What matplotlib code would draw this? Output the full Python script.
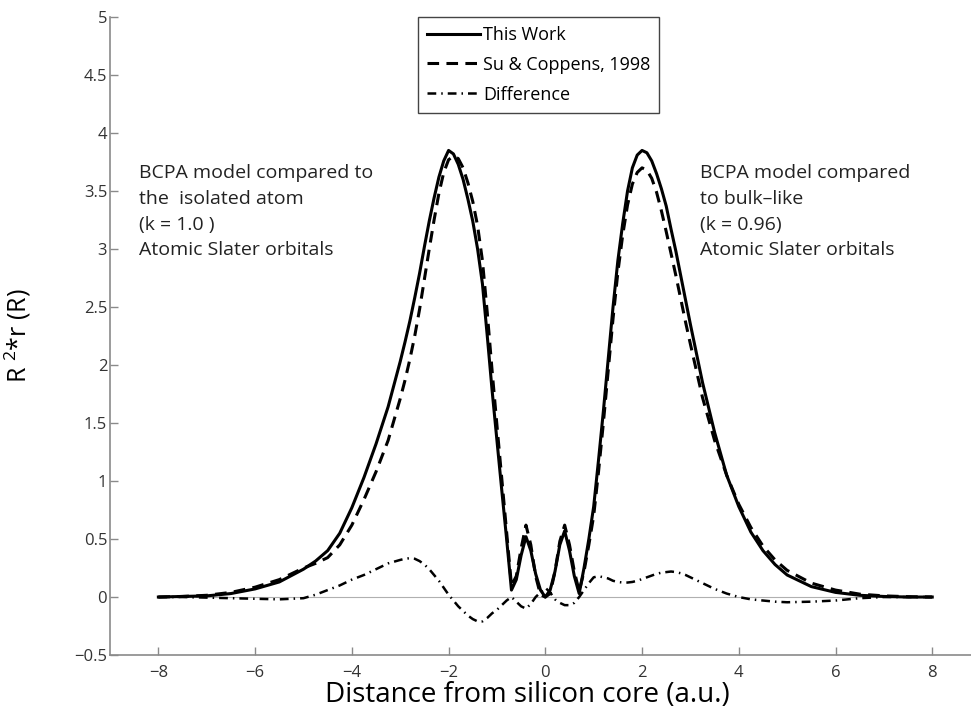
import matplotlib.pyplot as plt

plt.rcParams['font.family'] = ['Open Sans', 'DejaVu Sans']
plt.rcParams['mathtext.fontset'] = 'custom'
plt.rcParams['mathtext.rm'] = 'Open Sans'

# distance from the silicon core (a.u.)
distance = [-8, -7.5, -7, -6.5, -6, -5.5, -5, -4.75, -4.5, -4.25,
            -4, -3.75, -3.5, -3.25,
            -3.0, -2.9, -2.8, -2.7, -2.6, -2.5, -2.4, -2.3, -2.2, -2.1,
            -2.0, -1.9, -1.8, -1.7, -1.6, -1.5, -1.4, -1.3, -1.2, -1.1,
            -1.0, -0.9, -0.8, -0.7,
            -0.6, -0.5, -0.4, -0.3, -0.2, -0.1, 0.0, 0.1, 0.2, 0.3,
            0.4, 0.5, 0.6,
            0.7, 0.8, 0.9, 1.0, 1.1, 1.2, 1.3, 1.4, 1.5, 1.6,
            1.7, 1.8, 1.9, 2.0, 2.1, 2.2, 2.3, 2.4, 2.5, 2.6,
            2.7, 2.8, 2.9, 3.0,
            3.25, 3.5, 3.75, 4, 4.25, 4.5, 4.75, 5, 5.5, 6,
            6.5, 7, 7.5, 8]

# R^2 * rho(R), this work
thisWork = [0.0, 0.005, 0.01, 0.03, 0.07, 0.13, 0.24, 0.31, 0.40, 0.55,
            0.77, 1.03, 1.32, 1.64,
            2.03, 2.20, 2.38, 2.58, 2.79, 3.02, 3.24, 3.44, 3.62, 3.76,
            3.85, 3.82, 3.73, 3.60, 3.43, 3.24, 3.00, 2.70, 2.25, 1.78,
            1.35, 0.92, 0.50, 0.06,
            0.15, 0.36, 0.52, 0.40, 0.20, 0.06, 0.0, 0.06, 0.22, 0.45,
            0.57, 0.40, 0.18,
            0.03, 0.25, 0.50, 0.78, 1.18, 1.60, 2.05, 2.50, 2.90, 3.22,
            3.50, 3.70, 3.81, 3.85, 3.83, 3.76, 3.65, 3.52, 3.37, 3.17,
            2.98, 2.77, 2.56, 2.35,
            1.85, 1.42, 1.05, 0.78, 0.56, 0.40, 0.28, 0.19, 0.09, 0.04,
            0.015, 0.005, 0.0, 0.0]

# Su & Coppens, 1998
suCoppens = [0.0, 0.005, 0.015, 0.04, 0.085, 0.15, 0.25, 0.29, 0.34, 0.45,
             0.62, 0.84, 1.08, 1.35,
             1.71, 1.87, 2.05, 2.25, 2.48, 2.74, 3.00, 3.25, 3.48, 3.66,
             3.77, 3.80, 3.78, 3.70, 3.57, 3.41, 3.20, 2.90, 2.45, 1.95,
             1.48, 1.02, 0.56, 0.10,
             0.18, 0.42, 0.62, 0.45, 0.18, 0.02, 0.0, 0.03, 0.22, 0.48,
             0.62, 0.45, 0.22,
             0.05, 0.22, 0.45, 0.70, 1.08, 1.50, 1.95, 2.40, 2.80, 3.12,
             3.38, 3.56, 3.66, 3.70, 3.68, 3.61, 3.49, 3.33, 3.15, 2.96,
             2.77, 2.57, 2.37, 2.18,
             1.72, 1.35, 1.05, 0.80, 0.60, 0.44, 0.32, 0.23, 0.12, 0.06,
             0.025, 0.01, 0.003, 0.0]

# difference between the two
difference = [0.0, 0.0, -0.005, -0.01, -0.015, -0.02, -0.01, 0.02, 0.06, 0.10,
              0.15, 0.19, 0.24, 0.29,
              0.32, 0.33, 0.335, 0.33, 0.31, 0.28, 0.24, 0.19, 0.14, 0.08,
              0.02, -0.03, -0.08, -0.12, -0.16, -0.19, -0.21, -0.21, -0.18, -0.14,
              -0.11, -0.07, -0.03, 0.0,
              -0.04, -0.08, -0.10, -0.06, 0.0, 0.04, 0.08, 0.04, -0.02, -0.05,
              -0.07, -0.07, -0.05,
              0.0, 0.06, 0.12, 0.17, 0.18, 0.17, 0.16, 0.14, 0.13, 0.125,
              0.125, 0.13, 0.14, 0.155, 0.17, 0.185, 0.20, 0.21, 0.215, 0.22,
              0.215, 0.205, 0.19, 0.17,
              0.12, 0.07, 0.03, 0.0, -0.02, -0.03, -0.04, -0.045, -0.04, -0.03,
              -0.01, 0.0, 0.0, 0.0]

xTicks = [-8, -6, -4, -2, 0, 2, 4, 6, 8]
yTicks = [-0.5, 0, 0.5, 1, 1.5, 2, 2.5, 3, 3.5, 4, 4.5, 5]

fig = plt.figure(figsize=(9.71, 7.13), dpi=100)
ax = fig.add_axes([0.1133, 0.0813, 0.8966, 0.8948])

# thin zero line under the curves
ax.plot([-8, 8], [0, 0], color='#b0b0b0', linewidth=0.8, zorder=1)

ax.plot(distance, thisWork, color='black', linewidth=2.2, linestyle='-', label='This Work')
ax.plot(distance, suCoppens, color='black', linewidth=2.2, dashes=(3.8, 2.4), label='Su & Coppens, 1998')
ax.plot(distance, difference, color='black', linewidth=1.8, dashes=(3.5, 2.0, 0.6, 2.0), label='Difference')

ax.set_xlim(-9, 9)
ax.set_ylim(-0.5, 5)
ax.set_xticks(xTicks)
ax.set_yticks(yTicks)
ax.set_xticklabels(['\u22128', '\u22126', '\u22124', '\u22122', '0', '2', '4', '6', '8'])
ax.set_yticklabels(['\u22120.5', '0', '0.5', '1', '1.5', '2', '2.5', '3', '3.5', '4', '4.5', '5'])

for side in ['top', 'right']:
    ax.spines[side].set_visible(False)
for side in ['left', 'bottom']:
    ax.spines[side].set_color('#8a8a8a')
    ax.spines[side].set_linewidth(1.2)
ax.tick_params(direction='in', length=6, width=1, color='#8a8a8a',
               labelsize=12, labelcolor='#333333')
ax.tick_params(axis='y', pad=2)
ax.tick_params(axis='x', pad=7)

ax.set_xlabel('Distance from silicon core (a.u.)', fontsize=20)
ax.xaxis.set_label_coords(0.479, -0.040)
ax.set_ylabel(r'R $^{2}$*r (R)', fontsize=18)
ax.yaxis.set_label_coords(-0.088, 0.5)

# model notes beside each peak
ax.text(-8.41, 3.73, 'BCPA model compared to\nthe  isolated atom\n(k = 1.0 )\nAtomic Slater orbitals',
        fontsize=14, va='top', ha='left', linespacing=1.55, color='#222222')
ax.text(3.20, 3.73, 'BCPA model compared\nto bulk\u2013like\n(k = 0.96)\nAtomic Slater orbitals',
        fontsize=14, va='top', ha='left', linespacing=1.55, color='#222222')

leg = ax.legend(loc='upper left', bbox_to_anchor=(0.354, 1.0), borderaxespad=0,
                fontsize=13, handlelength=2.9, handletextpad=0.2, fancybox=False,
                framealpha=1, labelspacing=0.65, borderpad=0.5)
leg.get_frame().set_edgecolor('#444444')
leg.get_frame().set_linewidth(1.0)

plt.savefig('out.png', dpi=100)
